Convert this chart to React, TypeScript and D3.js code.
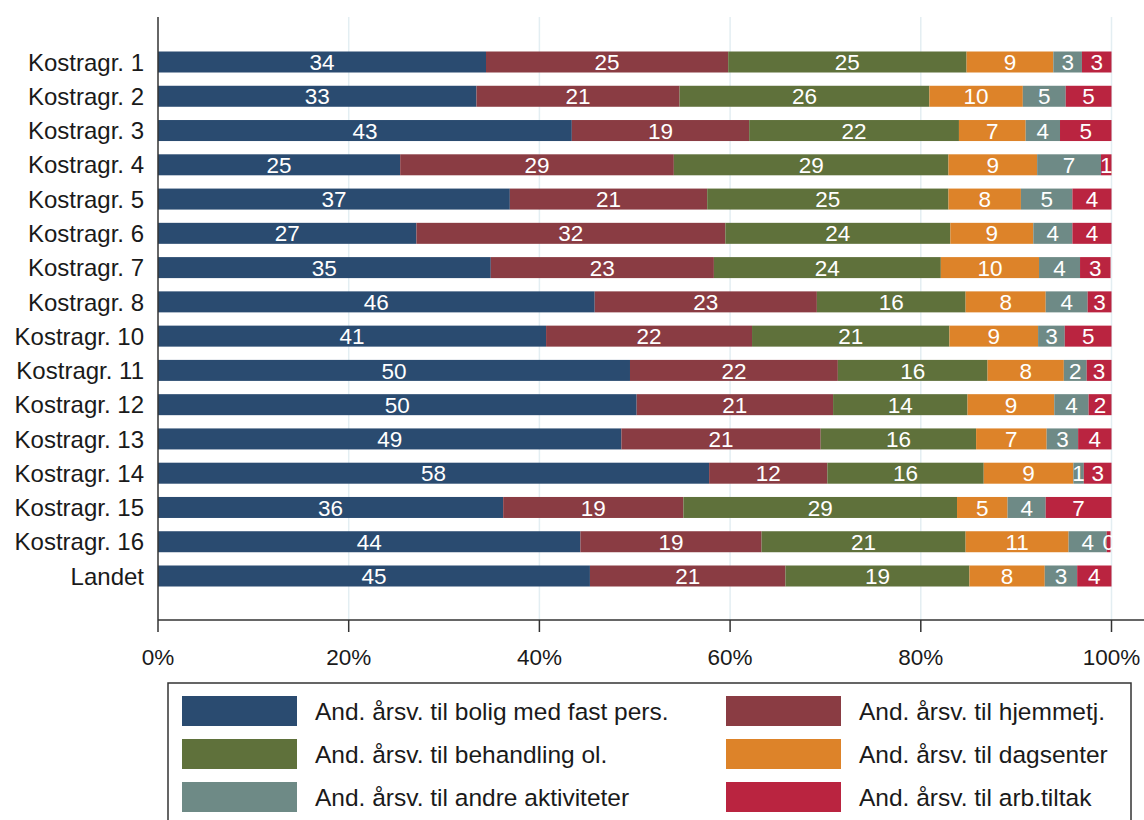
import React from "react";
import * as d3 from "d3";

const categories = [
  "Kostragr. 1", "Kostragr. 2", "Kostragr. 3", "Kostragr. 4", "Kostragr. 5",
  "Kostragr. 6", "Kostragr. 7", "Kostragr. 8", "Kostragr. 10", "Kostragr. 11",
  "Kostragr. 12", "Kostragr. 13", "Kostragr. 14", "Kostragr. 15", "Kostragr. 16", "Landet",
];

const seriesNames = [
  "And. årsv. til bolig med fast pers.",
  "And. årsv. til hjemmetj.",
  "And. årsv. til behandling ol.",
  "And. årsv. til dagsenter",
  "And. årsv. til andre aktiviteter",
  "And. årsv. til arb.tiltak",
];

const bolig = [34.4, 33.4, 43.4, 25.4, 36.9, 27.1, 34.9, 45.8, 40.7, 49.5, 50.2, 48.6, 57.8, 36.2, 44.3, 45.3];
const hjemmetj = [25.4, 21.3, 18.6, 28.7, 20.7, 32.4, 23.4, 23.3, 21.6, 21.8, 20.6, 20.9, 12.4, 18.9, 19.0, 20.5];
const behandling = [25.0, 26.2, 22.0, 28.8, 25.3, 23.6, 23.8, 15.6, 20.7, 15.7, 14.1, 16.3, 16.4, 28.7, 21.4, 19.3];
const dagsenter = [9.1, 9.8, 7.0, 9.3, 7.6, 8.7, 10.3, 8.4, 9.3, 8.0, 9.1, 7.4, 9.4, 5.3, 10.8, 7.9];
const andre = [3.0, 4.5, 3.6, 6.7, 5.4, 4.1, 4.3, 4.4, 2.8, 2.4, 3.6, 3.3, 1.1, 4.0, 4.0, 3.4];
const arbtiltak = [3.1, 4.8, 5.4, 1.1, 4.1, 4.1, 3.2, 2.5, 4.9, 2.6, 2.4, 3.5, 2.9, 6.9, 0.4, 3.6];

const colors = ["#2a4b70", "#8a3c43", "#5f713b", "#dd8329", "#6e8a86", "#ba2440"];

const xTicks = [0, 20, 40, 60, 80, 100];

const FONT = "'Liberation Sans', Arial, sans-serif";

export default function App() {
  const width = 1144;
  const height = 820;
  const x = d3.scaleLinear().domain([0, 100]).range([158, 1111.5]);
  const y = d3.scalePoint<string>().domain(categories).range([62, 576]);
  const barH = 21;
  const plotTop = 17;
  const plotBottom = 620;

  const seriesData = [bolig, hjemmetj, behandling, dagsenter, andre, arbtiltak];
  const rows = categories.map((c, i) => {
    const obj: any = { cat: c };
    seriesNames.forEach((s, j) => (obj[s] = seriesData[j][i]));
    return obj;
  });
  const stack = d3.stack<any>().keys(seriesNames);
  const stacked = stack(rows);

  const legendCols = [182, 726];
  const legendRows = [711, 754, 797];

  return (
    <svg
      width={width}
      height={height}
      style={{ position: "absolute", left: 0, top: 0, background: "#fff" }}
      fontFamily={FONT}
    >
      <defs>
        <clipPath id="plotclip">
          <rect x={158} y={0} width={x(100) - 158 + 0.5} height={plotBottom} />
        </clipPath>
      </defs>
      <rect x={0} y={0} width={width} height={height} fill="#fff" />
      {xTicks.slice(1).map((t) => (
        <line key={t} x1={x(t)} x2={x(t)} y1={plotTop} y2={plotBottom} stroke="#e3eef2" strokeWidth={1.5} />
      ))}
      <g clipPath="url(#plotclip)">
        {stacked.map((layer, j) =>
          layer.map((d, i) => (
            <rect
              key={`${j}-${i}`}
              x={x(d[0])}
              y={(y(categories[i]) as number) - barH / 2}
              width={x(d[1]) - x(d[0])}
              height={barH}
              fill={colors[j]}
            />
          ))
        )}
        {stacked.map((layer, j) =>
          layer.map((d, i) => (
            <text
              key={`t${j}-${i}`}
              x={(x(d[0]) + x(d[1])) / 2}
              y={y(categories[i]) as number}
              dy="0.36em"
              textAnchor="middle"
              fill="#fff"
              fontSize={22.5}
            >
              {Math.round(d[1] - d[0])}
            </text>
          ))
        )}
      </g>
      <line x1={158} x2={158} y1={plotTop} y2={plotBottom} stroke="#333" strokeWidth={1.5} />
      {categories.map((c) => (
        <text key={c} x={144} y={y(c) as number} dy="0.36em" textAnchor="end" fontSize={24} fill="#1a1a1a">
          {c}
        </text>
      ))}
      <line x1={158} x2={1144} y1={plotBottom} y2={plotBottom} stroke="#333" strokeWidth={1.5} />
      {xTicks.map((t) => (
        <g key={t}>
          <line x1={x(t)} x2={x(t)} y1={plotBottom} y2={plotBottom + 12} stroke="#333" strokeWidth={1.5} />
          <text x={x(t)} y={657} dy="0.36em" textAnchor="middle" fontSize={22.5} fill="#1a1a1a">
            {t}%
          </text>
        </g>
      ))}
      <rect x={168} y={683} width={963} height={160} fill="#fff" stroke="#333" strokeWidth={1.5} />
      {seriesNames.map((s, j) => {
        const col = j % 2;
        const row = Math.floor(j / 2);
        const lx = legendCols[col];
        const ly = legendRows[row];
        return (
          <g key={s}>
            <rect x={lx} y={ly - 15} width={115} height={30} fill={colors[j]} />
            <text x={lx + 133} y={ly} dy="0.36em" fontSize={24.5} fill="#1a1a1a">
              {s}
            </text>
          </g>
        );
      })}
    </svg>
  );
}
